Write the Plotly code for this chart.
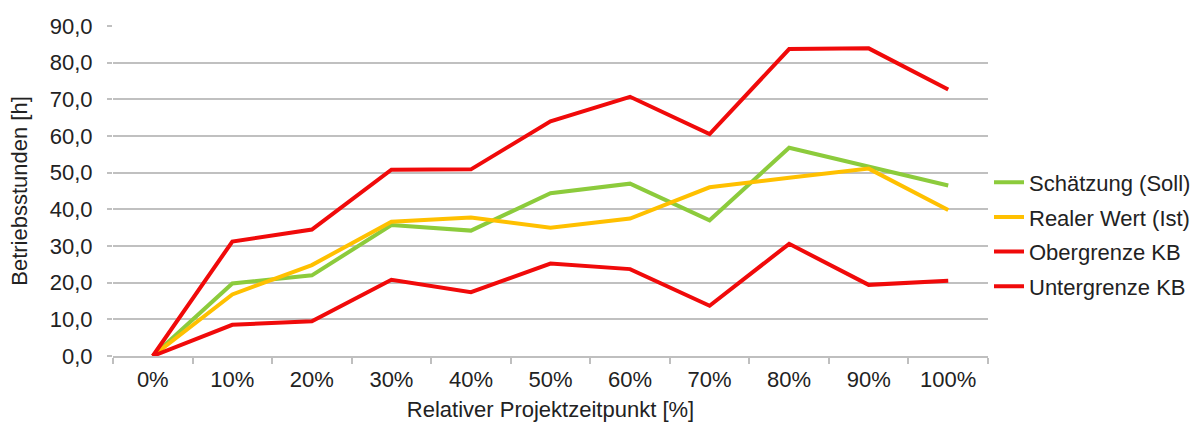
import plotly.graph_objects as go

# Relative project time points and operating-hour series
zeitpunkte = ["0%", "10%", "20%", "30%", "40%", "50%", "60%", "70%", "80%", "90%", "100%"]
schaetzung_soll = [0.0, 19.8, 22.0, 35.7, 34.2, 44.4, 47.0, 37.0, 56.8, 51.6, 46.5]
realer_wert_ist = [0.0, 16.8, 24.8, 36.6, 37.8, 35.0, 37.5, 46.0, 48.6, 51.1, 39.8]
obergrenze_kb = [0.0, 31.2, 34.5, 50.8, 50.9, 64.0, 70.7, 60.5, 83.7, 83.9, 72.7]
untergrenze_kb = [0.0, 8.5, 9.5, 20.8, 17.4, 25.2, 23.7, 13.7, 30.6, 19.4, 20.5]

series = [
    ("Schätzung (Soll)", schaetzung_soll, "#8CCB3C"),
    ("Realer Wert (Ist)", realer_wert_ist, "#FFC000"),
    ("Obergrenze KB", obergrenze_kb, "#F00A0A"),
    ("Untergrenze KB", untergrenze_kb, "#F00A0A"),
]

fig = go.Figure()
for name, values, color in series:
    fig.add_trace(go.Scatter(
        x=zeitpunkte, y=values, name=name, mode="lines",
        legendgroup=name,
        line=dict(color=color, width=4),
    ))

font = "Liberation Sans, Arial, sans-serif"
fs = 22
fig.update_layout(
    width=1195, height=423,
    margin=dict(l=113, r=207, t=26, b=67, autoexpand=False),
    paper_bgcolor="white", plot_bgcolor="white",
    separators=",.",
    font=dict(family=font, size=fs, color="#222222"),
    showlegend=True,
    legend=dict(
        xref="container", x=989 / 1195, xanchor="left",
        y=0.368, yanchor="middle",
        font=dict(family=font, size=fs, color="#222222"),
        tracegroupgap=3, itemwidth=30,
        bgcolor="rgba(0,0,0,0)",
    ),
    xaxis=dict(
        title=dict(text="Relativer Projektzeitpunkt [%]", standoff=10,
                   font=dict(family=font, size=fs)),
        type="category",
        range=[-0.5, 10.5],
        showgrid=False,
        showline=True, linecolor="#BFBFBF", linewidth=1.5,
        ticks="outside", tickson="boundaries", ticklen=6,
        tickcolor="#BFBFBF", tickwidth=1.5,
        ticklabelstandoff=3,
        tickfont=dict(family=font, size=fs),
    ),
    yaxis=dict(
        title=dict(text="Betriebsstunden [h]", standoff=16,
                   font=dict(family=font, size=fs)),
        range=[0, 90], dtick=10, tickformat=".1f",
        showgrid=True, gridcolor="#C0C0C0", gridwidth=1.5,
        zeroline=False,
        ticks="outside", ticklen=5, tickcolor="#C0C0C0", tickwidth=1.5,
        ticklabelstandoff=10,
        tickfont=dict(family=font, size=fs),
    ),
)

fig.write_html("out.html")
